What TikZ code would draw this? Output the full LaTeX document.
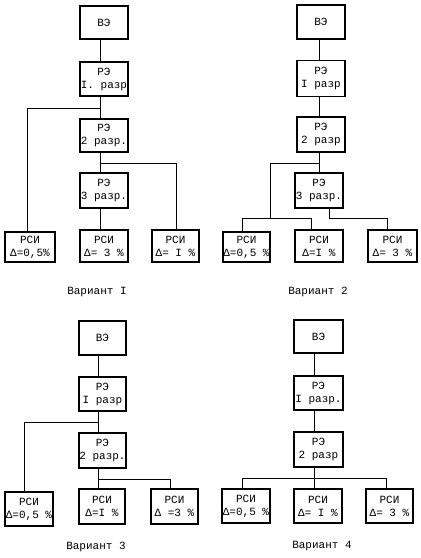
\documentclass[tikz,border=0pt]{standalone}
\usepackage{fontspec}
\newfontfamily\tw{Liberation Mono}
\usetikzlibrary{calc}
\begin{document}
\begin{tikzpicture}[x=1pt,y=-1pt,
  bx/.style={draw, line width=1.1pt, minimum width=48pt, minimum height=34pt,
    inner sep=0pt, align=center, font=\tw\fontsize{11}{13}\selectfont},
  ln/.style={line width=1.1pt},
  lab/.style={font=\tw\fontsize{11}{13}\selectfont}]
\useasboundingbox (0,0) rectangle (421,558);

% ---------- Variant 1 ----------
\node[bx,minimum height=33pt] (a1) at (104,22.5) {ВЭ};
\node[bx] (a2) at (104,79) {РЭ\\I. разр};
\node[bx,minimum height=33pt] (a3) at (104,135.5) {РЭ\\2 разр.};
\node[bx,minimum height=35pt] (a4) at (104,190.5) {РЭ\\3 разр.};
\node[bx,minimum width=50pt,minimum height=30pt] (a5) at (30,247) {РСИ\\Δ=0,5\%};
\node[bx,minimum height=32pt] (a6) at (104,246) {РСИ\\Δ= 3 \%};
\node[bx,minimum width=47pt,minimum height=32pt] (a7) at (175.5,246) {РСИ\\Δ= I \%};
\draw[ln] ($(a1.south west)+(21,0)$) -- ($(a2.north west)+(21,0)$);
\draw[ln] ($(a2.south west)+(21,0)$) -- ($(a3.north west)+(21,0)$);
\draw[ln] ($(a3.south west)+(21,0)$) -- ($(a4.north west)+(21,0)$);
\draw[ln] ($(a4.south west)+(21,0)$) -- ($(a6.north west)+(21,0)$);
\coordinate (aj1) at ($(a2.south west)+(21,12)$);
\draw[ln] (aj1) -| ($(a5.north west)+(23,0)$);
\coordinate (aj2) at ($(a3.south west)+(21,11)$);
\draw[ln] (aj2) -| ($(a7.north west)+(25,0)$);
\node[lab] (l1) at (97,292) {Вариант I};

% ---------- Variant 2 ----------
\node[bx] (b1) at (321,22) {ВЭ};
\node[bx,minimum height=36pt] (b2) at (321,78.5) {РЭ\\I разр};
\node[bx,minimum height=35pt] (b3) at (321,134.5) {РЭ\\2 разр};
\node[bx,minimum height=35pt] (b4) at (319,190.5) {РЭ\\3 разр.};
\node[bx,minimum width=47pt,minimum height=30pt] (b5) at (246.5,247) {РСИ\\Δ=0,5 \%};
\node[bx,minimum height=32pt] (b6) at (319,246) {РСИ\\Δ=I \%};
\node[bx,minimum width=49pt,minimum height=32pt] (b7) at (392.5,246) {РСИ\\Δ= 3 \%};
\draw[ln] ($(b1.south west)+(23,0)$) -- ($(b2.north west)+(23,0)$);
\draw[ln] ($(b2.south west)+(23,0)$) -- ($(b3.north west)+(23,0)$);
\draw[ln] ($(b3.south west)+(23,0)$) -- ($(b4.north west)+(25,0)$);
\coordinate (bj1) at ($(b3.south west)+(23,11)$);
\coordinate (bj2) at ($(b5.north west)+(48,-13)$);
\draw[ln] (bj1) -| (bj2);
\draw[ln] ($(b5.north west)+(20,0)$) |- (bj2) -| ($(b6.north west)+(17,0)$);
\draw[ln] ($(b4.south west)+(35,0)$) |- ($(b7.north west)+(20,-11)$) -- ($(b7.north west)+(20,0)$);
\node[lab] (l2) at (318,292) {Вариант 2};

% ---------- Variant 3 ----------
\node[bx,minimum width=47pt] (c1) at (102.5,338) {ВЭ};
\node[bx,minimum width=47pt] (c2) at (102.5,394) {РЭ\\I разр};
\node[bx,minimum width=47pt,minimum height=35pt] (c3) at (102.5,450.5) {РЭ\\2 разр.};
\node[bx] (c4) at (29,509) {РСИ\\Δ=0,5 \%};
\node[bx,minimum width=46pt,minimum height=35pt] (c5) at (102,506.5) {РСИ\\Δ=I \%};
\node[bx,minimum width=47pt,minimum height=35pt] (c6) at (174.5,506.5) {РСИ\\Δ =3 \%};
\draw[ln] ($(c1.south west)+(20,0)$) -- ($(c2.north west)+(20,0)$);
\draw[ln] ($(c2.south west)+(20,0)$) -- ($(c3.north west)+(20,0)$);
\draw[ln] ($(c3.south west)+(20,0)$) -- ($(c5.north west)+(20,0)$);
\coordinate (cj1) at ($(c2.south west)+(20,11)$);
\draw[ln] (cj1) -| ($(c4.north west)+(20,0)$);
\coordinate (cj2) at ($(c3.south west)+(20,11)$);
\draw[ln] (cj2) -| ($(c6.north west)+(20,0)$);
\node[lab] (l3) at (96,547) {Вариант 3};

% ---------- Variant 4 ----------
\node[bx,minimum width=49pt,minimum height=33pt] (d1) at (318.5,336.5) {ВЭ};
\node[bx,minimum width=49pt] (d2) at (318.5,393) {РЭ\\I разр.};
\node[bx,minimum width=49pt,minimum height=35pt] (d3) at (318.5,449.5) {РЭ\\2 разр};
\node[bx] (d4) at (246,506) {РСИ\\Δ=0,5 \%};
\node[bx] (d5) at (318,506) {РСИ\\Δ= I \%};
\node[bx,minimum width=47pt] (d6) at (389.5,506) {РСИ\\Δ= 3 \%};
\draw[ln] ($(d1.south west)+(21,0)$) -- ($(d2.north west)+(21,0)$);
\draw[ln] ($(d2.south west)+(21,0)$) -- ($(d3.north west)+(21,0)$);
\draw[ln] ($(d3.south west)+(21,0)$) -- ($(d5.north west)+(21,0)$);
\coordinate (dj) at ($(d3.south west)+(21,11)$);
\draw[ln] ($(d4.north west)+(21,0)$) |- (dj) -| ($(d6.north west)+(21,0)$);
\node[lab] (l4) at (322,546) {Вариант 4};
\end{tikzpicture}
\end{document}
